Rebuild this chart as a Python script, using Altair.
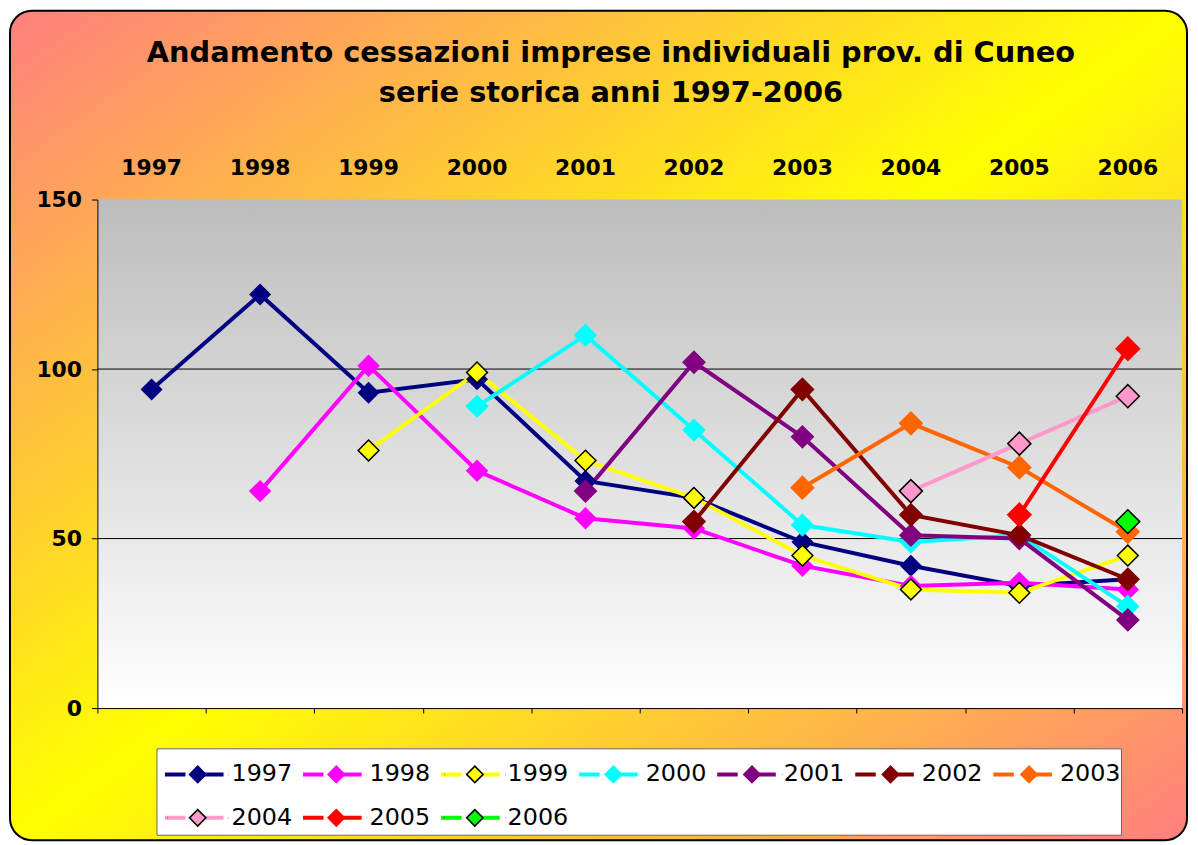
import altair as alt
import pandas as pd

# ---------------- data ----------------
YEARS = ["1997", "1998", "1999", "2000", "2001", "2002", "2003", "2004", "2005", "2006"]
SERIES = ["1997", "1998", "1999", "2000", "2001", "2002", "2003", "2004", "2005", "2006"]

# each series starts in its own year
V1997 = [94, 122, 93, 97, 67, 62, 49, 42, 36, 38]
V1998 = [64, 101, 70, 56, 53, 42, 36, 37, 35]
V1999 = [76, 99, 73, 62, 45, 35, 34, 45]
V2000 = [89, 110, 82, 54, 49, 51, 30]
V2001 = [64, 102, 80, 51, 50, 26]
V2002 = [55, 94, 57, 51, 38]
V2003 = [65, 84, 71, 52]
V2004 = [64, 78, 92]
V2005 = [57, 106]
V2006 = [55]
VALUES = [V1997, V1998, V1999, V2000, V2001, V2002, V2003, V2004, V2005, V2006]

GRID_VALUES = [50, 100]
Y_TICKS = [0, 50, 100, 150]
TITLE = ["Andamento cessazioni imprese individuali prov. di Cuneo",
         "serie storica anni 1997-2006"]

# ---------------- styles ----------------
COLORS = ["#000080", "#ff00ff", "#ffff00", "#00ffff", "#800080",
          "#800000", "#ff6600", "#ff99cc", "#ff0000", "#00ff00"]
OUTLINED = ["1999", "2004", "2006"]
STROKES = ["black" if s in OUTLINED else c for s, c in zip(SERIES, COLORS)]
SIZES = [400, 576, 324, 400, 400, 400, 400, 324, 400, 324]

FONT = "DejaVu Sans"
W, H = 1092, 512

rows = []
for k, s in enumerate(SERIES):
    for j, v in enumerate(VALUES[k]):
        rows.append({"series": s, "series2": s, "year": YEARS[k + j], "value": v})
df = pd.DataFrame(rows)
grid_df = pd.DataFrame({"value": GRID_VALUES})
one = pd.DataFrame({"k": [0]})

xscale = alt.Scale(type="band", domain=YEARS, paddingInner=0, paddingOuter=0)
yscale = alt.Scale(domain=[0, 150], nice=False, zero=True)

y_axis = alt.Axis(values=Y_TICKS, title=None, grid=False, zindex=1,
                  labelFont=FONT, labelFontSize=22, labelFontWeight="bold",
                  labelColor="black", labelPadding=10,
                  tickColor="black", tickSize=6, tickWidth=1,
                  domainColor="black", domainWidth=1)

x_top = alt.X("year:O", scale=xscale,
              axis=alt.Axis(orient="top", title=None, labelAngle=0, ticks=False,
                            tickSize=0, domain=False, grid=False, zindex=1,
                            labelFont=FONT, labelFontSize=22, labelFontWeight="bold",
                            labelColor="black", labelPadding=20))
x_bottom = alt.X("year:O", scale=xscale,
                 axis=alt.Axis(orient="bottom", title=None, labels=False, ticks=True,
                               tickSize=5, tickColor="black", tickBand="extent",
                               domainColor="black", grid=False, zindex=1))

# legend symbols: a line legend and a diamond legend laid exactly over each other
LINE_PATH = "M-1,0H-0.3M0.3,0H1"
DIAMOND_PATH = "M-1,0L-0.99,0M0,-0.27L0.27,0L0,0.27L-0.27,0ZM0.99,0L1,0"

common_legend = dict(orient="none", legendY=547, direction="horizontal",
                     columns=7, title=None, labelFont=FONT, labelOffset=6,
                     labelFontSize=24, rowPadding=0, padding=0, labelLimit=300)
line_legend = alt.Legend(symbolType=LINE_PATH, symbolStrokeWidth=4, symbolSize=3481,
                         labelColor="black", legendX=66, columnPadding=2,
                         **common_legend)
pt_legend = alt.Legend(symbolType=DIAMOND_PATH, symbolStrokeWidth=1.5, symbolSize=3782.25,
                       labelColor="transparent", legendX=69.5, columnPadding=5.5,
                       **common_legend)

frame_grad = alt.LinearGradient(
    gradient="linear", x1=0, y1=0, x2=1, y2=1,
    stops=[alt.GradientStop(color="#ff7f7f", offset=0),
           alt.GradientStop(color="#ffff00", offset=0.5),
           alt.GradientStop(color="#ff7f7f", offset=1)])
plot_grad = alt.LinearGradient(
    gradient="linear", x1=0, y1=0, x2=0, y2=1,
    stops=[alt.GradientStop(color="#bdbdbd", offset=0),
           alt.GradientStop(color="#ffffff", offset=1)])

frame = alt.Chart(one).mark_rect(fill=frame_grad, stroke="black", strokeWidth=2,
                                 cornerRadius=22).encode(
    x=alt.value(-88), x2=alt.value(1097), y=alt.value(-190), y2=alt.value(645))

plot_bg = alt.Chart(one).mark_rect(fill=plot_grad).encode(
    x=alt.value(0), x2=alt.value(W), y=alt.value(0), y2=alt.value(H))

title = alt.Chart(one).mark_text(font=FONT, fontSize=29, fontWeight="bold", color="black",
                                 align="center", baseline="alphabetic", lineHeight=40).encode(
    x=alt.value(517), y=alt.value(-138), text=alt.value(TITLE))

grid = alt.Chart(grid_df).mark_rule(color="black", strokeWidth=1).encode(
    y=alt.Y("value:Q", scale=yscale, axis=y_axis))

lines = alt.Chart(df).mark_line(strokeWidth=4).encode(
    x=x_top,
    y=alt.Y("value:Q", scale=yscale, axis=y_axis),
    color=alt.Color("series:N", scale=alt.Scale(range=COLORS), legend=line_legend),
)

points = alt.Chart(df).mark_point(shape="diamond", filled=True, opacity=1,
                                  strokeWidth=1.5).encode(
    x=x_bottom,
    y=alt.Y("value:Q", scale=yscale, axis=y_axis),
    fill=alt.Fill("series2:N", scale=alt.Scale(range=COLORS), legend=pt_legend),
    stroke=alt.Stroke("series2:N", scale=alt.Scale(range=STROKES), legend=pt_legend),
    size=alt.Size("series2:O", scale=alt.Scale(domain=SERIES, range=SIZES), legend=None),
)

legend_box = alt.Chart(one).mark_rect(fill="white", stroke="#666666", strokeWidth=1).encode(
    x=alt.value(60), x2=alt.value(1031), y=alt.value(553), y2=alt.value(640))

chart = alt.layer(frame, plot_bg, title, grid, lines, points, legend_box).resolve_axis(
    x="independent"
).properties(
    width=W, height=H,
    padding={"left": 90, "top": 190, "right": 8, "bottom": 135},
    autosize=alt.AutoSizeParams(type="none"),
).configure_view(stroke=None)

chart.save("out.html", embed_options={"renderer": "svg", "actions": False})
